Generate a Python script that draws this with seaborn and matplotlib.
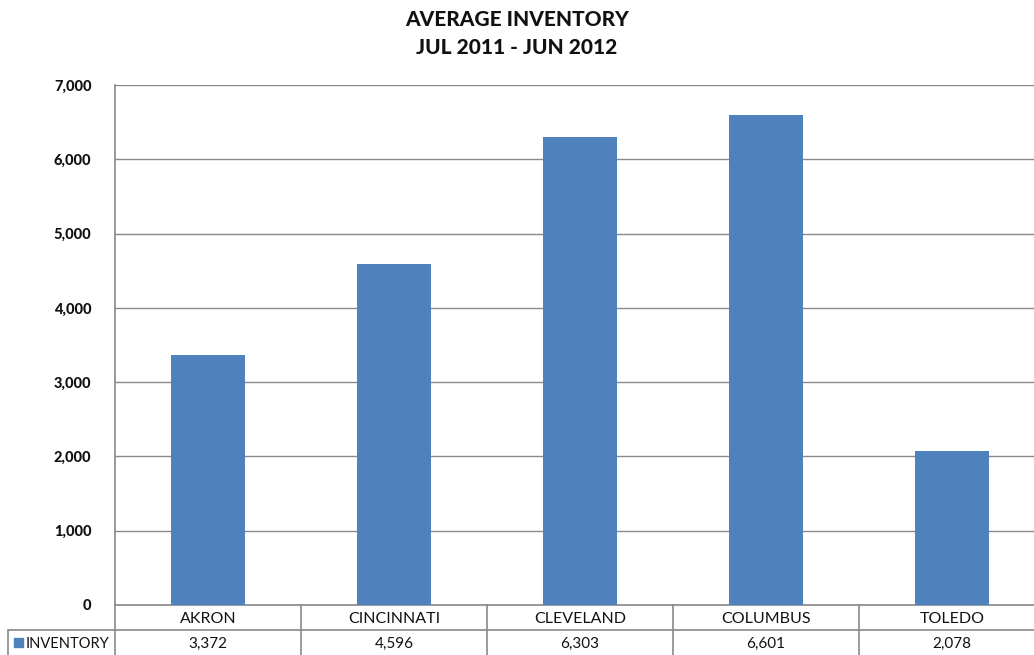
import matplotlib
matplotlib.use("Agg")
import matplotlib.pyplot as plt
import matplotlib.transforms as mtransforms
from matplotlib.patches import Rectangle
from matplotlib.ticker import FuncFormatter
import seaborn as sns
import pandas as pd

# Chart data
CITIES = ["AKRON", "CINCINNATI", "CLEVELAND", "COLUMBUS", "TOLEDO"]
INVENTORY = [3372, 4596, 6303, 6601, 2078]
SERIES_NAME = "INVENTORY"
TITLE_LINES = ["AVERAGE INVENTORY", "JUL 2011 - JUN 2012"]

BAR_COLOR = "#4F81BD"
GRID_COLOR = "#898989"
TEXT_COLOR = "#111111"

sns.set_style("white")
plt.rcParams["font.family"] = ["Lato", "DejaVu Sans"]

df = pd.DataFrame({"city": CITIES, "inventory": INVENTORY})

fig = plt.figure(figsize=(10.34, 6.55), dpi=100)
W, H = 1034, 655
# plot area in pixels: left 115, top 85, bottom 605, column width 186 (cut off at the right)
ax = fig.add_axes([115 / W, 1 - 605 / H, 930 / W, 520 / H])

sns.barplot(data=df, x="city", y="inventory", color=BAR_COLOR, width=0.4,
            saturation=1, linewidth=0, ax=ax, zorder=3)

ax.set_xlim(-0.5, len(CITIES) - 0.5)
ax.set_ylim(0, 7000)
ax.set_yticks(range(0, 7001, 1000))
ax.yaxis.set_major_formatter(FuncFormatter(lambda v, p: f"{int(v):,}"))
for lab in ax.get_yticklabels():
    lab.set_fontweight("black")
    lab.set_fontsize(10.5)
    lab.set_color(TEXT_COLOR)
ax.tick_params(axis="y", length=0, pad=17)
ax.set_xticks([])
ax.set_xlabel("")
ax.set_ylabel("")
ax.grid(axis="y", color=GRID_COLOR, linewidth=1, zorder=0)

for side in ["top", "right"]:
    ax.spines[side].set_visible(False)
for side in ["left", "bottom"]:
    ax.spines[side].set_color(GRID_COLOR)
    ax.spines[side].set_linewidth(1.2)

# two-line title
fig.text(0.5, 1 - 19 / H, TITLE_LINES[0], ha="center", va="center",
         fontsize=15, fontweight="black", color=TEXT_COLOR)
fig.text(0.5, 1 - 48 / H, TITLE_LINES[1], ha="center", va="center",
         fontsize=15, fontweight="black", color=TEXT_COLOR)

# data table under the chart
trans = mtransforms.blended_transform_factory(ax.transData, ax.transAxes)
row = 25 / 520
key_left = -0.5 - 107 / 186
line_kw = dict(color=GRID_COLOR, linewidth=1.2, clip_on=False)
for i in range(len(CITIES) + 1):
    ax.plot([i - 0.5, i - 0.5], [0, -2 * row], transform=trans, **line_kw)
ax.plot([key_left, len(CITIES) - 0.5], [-row, -row], transform=trans, **line_kw)
ax.plot([key_left, key_left], [-row, -2 * row], transform=trans, **line_kw)

for i, (city, val) in enumerate(zip(CITIES, INVENTORY)):
    ax.text(i, -row / 2, city, transform=trans, ha="center", va="center_baseline",
            fontsize=11.5, color=TEXT_COLOR)
    ax.text(i, -1.5 * row, f"{val:,}", transform=trans, ha="center", va="center_baseline",
            fontsize=11, color=TEXT_COLOR)

# legend key in the table
ax.add_patch(Rectangle((-0.5 - 101 / 186, -1.5 * row - 9 / 520 / 2), 9 / 186, 9 / 520,
                       transform=trans, color=BAR_COLOR, clip_on=False))
ax.text(-0.5 - 89 / 186, -1.5 * row, SERIES_NAME, transform=trans, ha="left",
        va="center_baseline", fontsize=10.5, color=TEXT_COLOR)

fig.savefig("out.png", dpi=100)
